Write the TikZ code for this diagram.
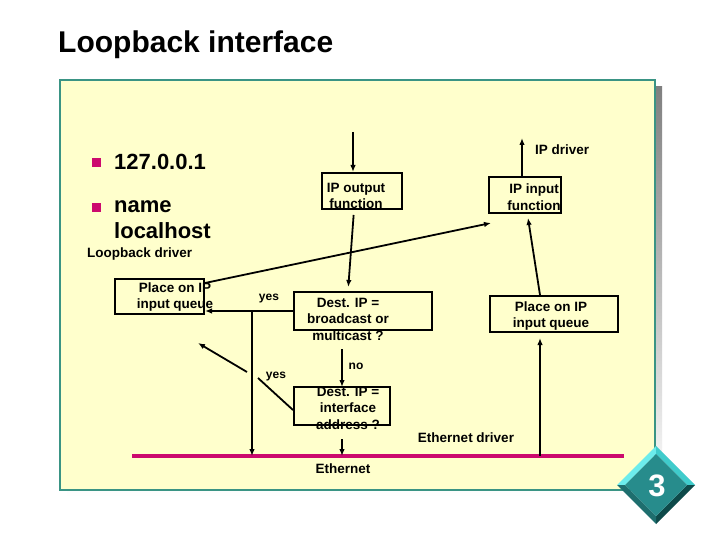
\documentclass[tikz,border=0pt]{standalone}
\usepackage{fontspec}
\setmainfont{Liberation Sans}
\usepackage{xcolor}
\usetikzlibrary{arrows.meta,positioning}
\definecolor{panel}{HTML}{FFFFCC}
\definecolor{rim}{HTML}{3A9484}
\definecolor{shade}{HTML}{8E8E8E}
\definecolor{wire}{HTML}{CC0A6E}
\definecolor{bevA}{HTML}{6CECEC}
\definecolor{bevB}{HTML}{40CCCC}
\definecolor{bevC}{HTML}{1E6E6E}
\definecolor{bevD}{HTML}{0E4A4A}
\definecolor{face}{HTML}{278C8C}

\begin{document}
\begin{tikzpicture}[
  x=1pt, y=-1pt,
  box/.style={rectangle, draw, line width=2pt, inner sep=0pt},
  txt/.style={align=center, inner sep=0pt, font=\fontsize{13.5}{16.5}\selectfont\bfseries},
  lbl/.style={inner sep=1pt, font=\fontsize{13.5}{16.5}\selectfont\bfseries},
  tiny/.style={inner sep=1pt, font=\fontsize{12}{14}\selectfont\bfseries},
  big/.style={anchor=base west, inner sep=0pt, font=\fontsize{22}{26}\selectfont\bfseries},
  bullet/.style={rectangle, fill=wire, minimum size=9pt, inner sep=0pt},
  arr/.style={-{Latex[length=7pt,width=5.5pt]}, line width=1.8pt}
]
\useasboundingbox (0,0) rectangle (720,540);
\fill[white] (0,0) rectangle (720,540);

\fill[shade] (67,87) rectangle (662,497);
\filldraw[fill=panel, draw=rim, line width=2.5pt] (60,80) rectangle (655,490);

\node[anchor=base west, inner sep=0pt, font=\fontsize{30}{34}\selectfont\bfseries] (title) at (58,53) {Loopback interface};

\node[bullet] (b1) at (96,163) {};
\node[big] (addr) at (114,170) {127.0.0.1};
\node[bullet] (b2) at (96,208) {};
\node[big] (nm) at (114,213) {name};
\node[big] (lh) at (114,239) {localhost};
\node[lbl, anchor=base west] (lbdrv) at (86,257) {Loopback driver};

\node[box, minimum width=80pt, minimum height=36pt] (ipout) at (362,191) {};
\node[txt] (ipoutt) at (356,196) {IP output\\function};
\node[box, minimum width=72pt, minimum height=36pt] (ipin) at (525,195) {};
\node[txt] (ipint) at (534,197) {IP input\\function};
\node[box, minimum width=89pt, minimum height=35pt] (placeL) at (159.5,296.5) {};
\node[txt] (placeLt) at (175,297) {Place on IP\\input queue};
\node[box, minimum width=128pt, minimum height=36pt] (placeR) at (554,314) {};
\node[txt] (placeRt) at (551,316) {Place on IP\\input queue};
\node[box, minimum width=138pt, minimum height=38pt] (bcast) at (363,311) {};
\node[txt] (bcastt) at (348,319) {Dest. IP =\\broadcast or\\multicast ?};
\node[box, minimum width=96pt, minimum height=38pt] (ifaddr) at (342,406) {};
\node[txt] (ifaddrt) at (348,408) {Dest. IP =\\interface\\address ?};

\coordinate (outsrc) at (353,132);
\coordinate (drvtop) at (522,138);
\coordinate (split) at (252,311);
\coordinate (ethL) at (132,456);
\coordinate (ethR) at (624,456);
\coordinate (ethtap) at (540,456);
\coordinate (jumpA) at (258,378);
\coordinate (jumpB) at (247,372);
\coordinate (loopend) at (198,343);

\draw[wire, line width=4pt] (ethL) -- (ethR);

\draw[arr] (outsrc) -- (outsrc |- ipout.north);
\draw[arr] ([xshift=-3pt]ipin.north) -- (drvtop);
\node[lbl, right=12pt of drvtop, yshift=-12pt] (ipdrv) {IP driver};
\draw[arr, shorten <=5pt, shorten >=4pt] ([xshift=-8pt]ipout.south) -- ([xshift=-15pt]bcast.north);
\draw[arr] ([yshift=-5pt]placeL.north east) -- ([xshift=3pt,yshift=-9pt]ipin.south west);
\draw[arr] ([xshift=-14pt]placeR.north) -- ([xshift=3pt,yshift=-4pt]ipin.south);
\draw[arr] (bcast.west) -- (bcast.west -| placeL.east);
\draw[arr] (split) -- (split |- ethL);
\node[tiny] (yes1) at (269,299) {yes};
\draw[arr, shorten <=18pt, shorten >=10pt] ([xshift=-21pt]bcast.south) -- ([xshift=-21pt,yshift=-11pt]bcast.south |- ifaddr.north);
\node[tiny] (no) at (356,366) {no};
\draw[arr, shorten <=13pt] (ifaddr.south) -- (ifaddr.south |- ethL);
\draw[line width=1.8pt] ([yshift=-4pt]ifaddr.west) -- (jumpA);
\draw[arr] (jumpB) -- (loopend);
\node[tiny] (yes2) at (276,377) {yes};
\draw[arr, shorten >=5pt] (ethtap) -- (ethtap |- placeR.south);
\node[lbl] (ethdrv) at (466,438) {Ethernet driver};
\node[lbl] (eth) at (343,469) {Ethernet};

\fill[bevA] (617,485) -- (656,446) -- (656,454) -- (625,485) -- cycle;
\fill[bevB] (656,446) -- (695,485) -- (687,485) -- (656,454) -- cycle;
\fill[bevD] (695,485) -- (656,524) -- (656,516) -- (687,485) -- cycle;
\fill[bevC] (656,524) -- (617,485) -- (625,485) -- (656,516) -- cycle;
\fill[face] (656,454) -- (687,485) -- (656,516) -- (625,485) -- cycle;
\node[text=white, inner sep=0pt, font=\fontsize{31}{34}\selectfont\bfseries] (badge) at (657,486) {3};
\end{tikzpicture}
\end{document}
